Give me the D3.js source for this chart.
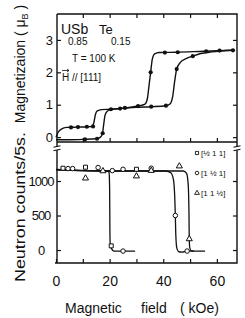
<!DOCTYPE html>
<html>
<head>
<meta charset="utf-8">
<script src="https://cdn.jsdelivr.net/npm/d3@7"></script>
<style>
  body { margin: 0; background: #fff; }
  svg text { font-family: "Liberation Sans", "DejaVu Sans", sans-serif; fill: #111; }
</style>
</head>
<body>
<div id="chart"></div>
<script>
// tick values
const fieldTicks = [0, 10, 20, 30, 40, 50, 60];
const fieldLabels = [0, 20, 40, 60];
const magTicks = [0, 1, 2, 3];
const cntTicks = [0, 500, 1000];

// magnetization, field in kOe, M in muB (curve traces + measured dots)
const magA = [[0, 0.0], [0.8, 0.15], [2, 0.25], [4, 0.3], [8, 0.31], [12, 0.32], [13.6, 0.34], [14.2, 0.48], [14.7, 0.7], [15.4, 0.81], [17, 0.85], [20.5, 0.86], [25.7, 0.9], [30.6, 0.96], [33.2, 1.02], [34.1, 1.2], [34.7, 1.6], [35.3, 2.0], [35.9, 2.4], [36.8, 2.57], [38.5, 2.61], [45, 2.62], [55, 2.65], [66, 2.68]];
const magADots = [[5.6, 0.3], [8.2, 0.31], [11.5, 0.32], [13.8, 0.33], [20.5, 0.86], [25.7, 0.9], [30.6, 0.96], [35.3, 2.0], [40.6, 2.61], [45.4, 2.62], [56, 2.65], [61, 2.67], [66, 2.68]];
const magB = [[0, -0.08], [5, -0.08], [10, -0.07], [15, -0.05], [16.6, 0.0], [17.3, 0.1], [17.8, 0.4], [18.3, 0.68], [19.1, 0.8], [20.5, 0.85], [23.9, 0.88], [30, 0.92], [35.5, 0.94], [41, 0.97], [42.6, 1.03], [43.5, 1.25], [44.3, 1.75], [45, 2.1], [46.3, 2.3], [48.5, 2.42], [51, 2.5], [54, 2.58], [58, 2.63], [66, 2.68]];
const magBDots = [[10.8, -0.07], [15.3, -0.05], [17.4, 0.12], [23.9, 0.88], [35.5, 0.94], [41, 0.97], [45, 2.1], [51, 2.5]];

// neutron counts per 5 s, three reflections
const cntHalf11 = [[0, 1170], [5, 1160], [12, 1150], [19.4, 1145], [19.8, 1120], [20.0, 900], [20.1, 300], [20.2, 100], [20.7, 20], [21.6, -15], [25, -15], [29.5, -15]];
const cnt1Half1 = [[0, 1160], [20, 1145], [41, 1145], [42.8, 1120], [43.8, 1020], [44.3, 750], [44.5, 500], [44.7, 200], [45.1, 20], [45.8, -25], [47, -30], [49, -15], [55.6, -15]];
const cnt11Half = [[0, 1160], [20, 1145], [47.5, 1145], [48.7, 1110], [49.3, 950], [49.6, 500], [49.7, 150], [49.9, 30], [50.4, -10], [51.5, -15]];
const dotsHalf11 = [[2.6, 1185], [11, 1200], [30, 1170], [20.6, 60]];
const dots1Half1 = [[4.5, 1180], [6.2, 1180], [15.7, 1195], [21, 1150], [25, 1170], [35.5, 1185], [25, -15], [44.5, 500], [48.9, -15]];
const dots11Half = [[11, 1040], [17.5, 1145], [30, 1070], [35.5, 1150], [46, 1215], [49.7, 160]];
const legendLabels = ["[½ 1 1]", "[1 ½ 1]", "[1 1 ½]"];

const W = 245, H = 318;
const L = 57, R = 237, T = 14, MID = 142, B = 263;

const svg = d3.select("#chart").append("svg")
    .attr("width", W).attr("height", H);

const x = d3.scaleLinear().domain([0, 67.5]).range([56, 237]);
const yM = d3.scaleLinear().domain([-0.15, 3.8]).range([142, 14]);
const yN = d3.scaleLinear().domain([-188, 1478]).range([263, 148]);

// frame
svg.append("path")
    .attr("d", `M${L},${T}H${R}V${B}H${L - 2}M${L},${T}V${B}M${L},${MID}H${R}`)
    .attr("fill", "none").attr("stroke", "#111").attr("stroke-width", 1.4);

function ticks(g) {
    g.select(".domain").remove();
    g.selectAll("line").attr("stroke", "#111").attr("stroke-width", 1.2);
}

svg.append("g").attr("transform", `translate(0,${B})`)
    .call(d3.axisBottom(x).tickValues(fieldTicks).tickSize(-4).tickPadding(13)
        .tickFormat(d => fieldLabels.includes(d) ? d : ""))
    .call(ticks)
    .selectAll("text").style("font-size", "14px");
svg.append("g").attr("transform", `translate(0,${MID})`)
    .call(d3.axisBottom(x).tickValues(fieldTicks.slice(1)).tickSize(-4).tickFormat(""))
    .call(ticks);
svg.append("g").attr("transform", `translate(0,${T})`)
    .call(d3.axisTop(x).tickValues(fieldTicks.slice(1)).tickSize(-4).tickFormat(""))
    .call(ticks);

svg.append("g").attr("transform", `translate(${L},0)`)
    .call(d3.axisLeft(yM).tickValues(magTicks).tickSize(-4).tickPadding(4).tickFormat(d3.format("d")))
    .call(ticks)
    .selectAll("text").style("font-size", "13px");
svg.append("g").attr("transform", `translate(${R},0)`)
    .call(d3.axisRight(yM).tickValues(magTicks).tickSize(-4).tickFormat(""))
    .call(ticks);
svg.append("g").attr("transform", `translate(${L},0)`)
    .call(d3.axisLeft(yN).tickValues(cntTicks).tickSize(-4).tickFormat(d3.format("d")))
    .call(ticks)
    .selectAll("text").style("font-size", "13px").style("letter-spacing", "-1px")
    .attr("text-anchor", "middle").attr("x", -16);
svg.append("g").attr("transform", `translate(${R},0)`)
    .call(d3.axisRight(yN).tickValues(cntTicks).tickSize(-4).tickFormat(""))
    .call(ticks);

// axis breaks
[L, R].forEach(sx => {
    svg.append("rect").attr("x", sx - 2).attr("y", 146.5).attr("width", 4).attr("height", 3.5).attr("fill", "#fff");
    [146.5, 150].forEach(by => svg.append("line")
        .attr("x1", sx - 3.5).attr("y1", by + 0.8).attr("x2", sx + 3.5).attr("y2", by - 0.8)
        .attr("stroke", "#111").attr("stroke-width", 1.1));
});

const lineM = d3.line().x(d => x(d[0])).y(d => yM(d[1])).curve(d3.curveMonotoneX);
const lineN = d3.line().x(d => x(d[0])).y(d => yN(d[1])).curve(d3.curveMonotoneX);

[magA, magB].forEach(s => svg.append("path").attr("d", lineM(s))
    .attr("fill", "none").attr("stroke", "#111").attr("stroke-width", 1.4));
svg.selectAll(".mdot").data(magADots.concat(magBDots)).enter().append("circle")
    .attr("cx", d => x(d[0])).attr("cy", d => yM(d[1])).attr("r", 2.1).attr("fill", "#111");

[cntHalf11, cnt1Half1, cnt11Half].forEach(s => svg.append("path").attr("d", lineN(s))
    .attr("fill", "none").attr("stroke", "#111").attr("stroke-width", 1.3));

const symbols = [d3.symbolSquare, d3.symbolCircle, d3.symbolTriangle];
[dotsHalf11, dots1Half1, dots11Half].forEach((pts, i) => {
    svg.selectAll(".n" + i).data(pts).enter().append("path")
        .attr("d", d3.symbol(symbols[i], 16))
        .attr("transform", d => `translate(${x(d[0])},${yN(d[1])})`)
        .attr("fill", "#fff").attr("stroke", "#111").attr("stroke-width", 1);
});

// legend
legendLabels.forEach((lab, i) => {
    const ly = 156 + i * 20;
    svg.append("path").attr("d", d3.symbol(symbols[i], 10))
        .attr("transform", `translate(197,${ly - 3})`)
        .attr("fill", "#fff").attr("stroke", "#111").attr("stroke-width", 0.9);
    svg.append("text").attr("x", 201).attr("y", ly).style("font-size", "8px").text(lab);
});

// annotations
const ann = svg.append("text").attr("x", 61).attr("y", 34).style("font-size", "14px");
ann.append("tspan").text("USb");
ann.append("tspan").attr("x", 68).attr("y", 45).style("font-size", "10px").text("0.85");
ann.append("tspan").attr("x", 99).attr("y", 34).style("font-size", "13px").text("Te");
ann.append("tspan").attr("x", 111).attr("y", 45).style("font-size", "10px").text("0.15");
svg.append("text").attr("x", 72).attr("y", 62).style("font-size", "10px").text("T = 100 K");
svg.append("text").attr("x", 62).attr("y", 81).style("font-size", "10px").text("H // [111]");
svg.append("path").attr("d", "M62,70.5H69M67,69l2,1.5l-2,1.5")
    .attr("fill", "none").attr("stroke", "#111").attr("stroke-width", 0.8);

// axis titles
const ml = svg.append("text").attr("transform", "translate(25,64) rotate(-90)")
    .attr("text-anchor", "middle").style("font-size", "14px");
ml.append("tspan").text("Magnetizaion ( μ");
ml.append("tspan").attr("dy", 3).style("font-size", "9px").text("B");
ml.append("tspan").attr("dy", -3).text(" )");
svg.append("text").attr("transform", "translate(25,207) rotate(-90)")
    .attr("text-anchor", "middle").style("font-size", "15px")
    .attr("textLength", 150).attr("lengthAdjust", "spacingAndGlyphs")
    .text("Neutron counts/5s.");
const xl = svg.append("text").attr("y", 313).style("font-size", "14px");
xl.append("tspan").attr("x", 65).text("Magnetic");
xl.append("tspan").attr("x", 141).text("field");
xl.append("tspan").attr("x", 180).text("( kOe)");
</script>
</body>
</html>
